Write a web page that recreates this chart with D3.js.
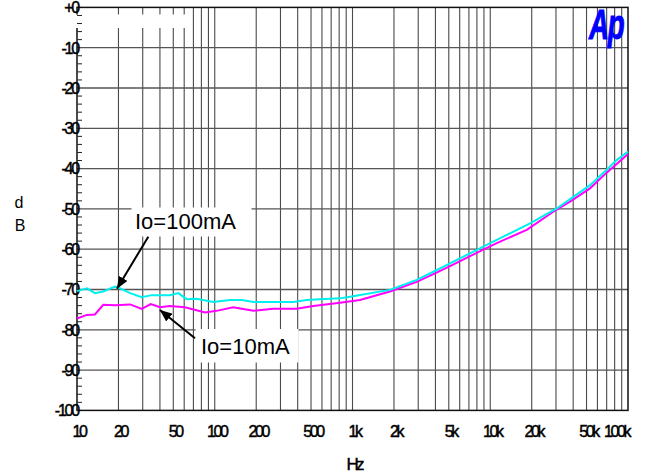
<!DOCTYPE html>
<html><head><meta charset="utf-8">
<script src="https://cdn.jsdelivr.net/npm/d3@7"></script>
<style>
html,body{margin:0;padding:0;background:#fff;}
svg{display:block;font-family:"Liberation Sans",Arial,sans-serif;}
</style></head>
<body>
<svg id="chart" width="645" height="474"></svg>
<script>
// ---- data ----
const xTickValues = [10, 20, 50, 100, 200, 500, 1000, 2000, 5000, 10000, 20000, 50000, 100000];
const xTickLabels = ["10", "20", "50", "100", "200", "500", "1k", "2k", "5k", "10k", "20k", "50k", "100k"];
const yTickValues = [0, -10, -20, -30, -40, -50, -60, -70, -80, -90, -100];
const yTickLabels = ["+0", "-10", "-20", "-30", "-40", "-50", "-60", "-70", "-80", "-90", "-100"];

const freq100 = [10, 11.8, 13.5, 15.5, 18.9, 20.5, 24.3, 29.5, 34.8, 47.3, 54.4, 62.6, 73.9, 97.7, 129, 157, 191, 372, 465, 580, 811, 959, 1871, 2923, 3864, 5104, 7540, 11140, 19460, 30370, 40100, 52980, 70000, 82700, 100000];
const db100 = [-70.4, -69.7, -70.9, -70.5, -69.3, -69.7, -70.9, -71.9, -71.4, -71.4, -70.9, -72.4, -72.3, -73.1, -72.6, -72.6, -73.1, -73.1, -72.6, -72.4, -72.2, -71.8, -70.1, -67.6, -65.6, -63.5, -60.6, -57.7, -53.6, -49.9, -47.0, -44.1, -40.3, -37.9, -35.8];

const freq10 = [10, 11.8, 13.5, 15.5, 18.9, 24.3, 29.5, 34.3, 40, 47.3, 60.8, 85, 103, 136, 191, 266, 393, 520, 811, 1133, 1871, 2923, 3864, 5104, 7130, 11140, 18400, 28700, 37900, 52980, 70000, 100000];
const db10 = [-77.2, -76.3, -76.2, -73.8, -73.9, -73.7, -74.8, -73.6, -74.4, -74.1, -74.4, -75.7, -75.3, -74.4, -75.3, -74.8, -74.8, -74.1, -73.3, -72.6, -70.5, -68.1, -66.2, -64.2, -61.7, -58.5, -55.2, -50.7, -48.2, -44.9, -41.0, -36.4];

const seriesNames = ["Io=100mA", "Io=10mA"];

// ---- layout ----
const svg = d3.select("#chart");
const L = 77, R = 628, T = 7.4, B = 410.4;
const x = d3.scaleLog().domain([10, 100000]).range([L, R]);
const y = d3.scaleLinear().domain([-100, 0]).range([B, T]);

// vertical grid lines (1..9 per decade)
const vGrid = [];
for (let d = 10; d < 100000; d *= 10) for (let k = 1; k <= 9; k++) { const f = d * k; if (f > 10 && f <= 100000) vGrid.push(f); }
svg.append("g").selectAll("line").data(vGrid).join("line")
  .attr("x1", d => x(d)).attr("x2", d => x(d)).attr("y1", T).attr("y2", B)
  .attr("stroke", "#4a4a4a").attr("stroke-width", 1.1);

// horizontal grid
svg.append("g").selectAll("line").data(yTickValues.filter(v => v !== 0 && v !== -100)).join("line")
  .attr("x1", L).attr("x2", R).attr("y1", d => y(d)).attr("y2", d => y(d))
  .attr("stroke", "#555").attr("stroke-width", 1.3);

// frame
svg.append("rect").attr("x", L).attr("y", T).attr("width", R - L).attr("height", B - T)
  .attr("fill", "none").attr("stroke", "#111").attr("stroke-width", 1.5);

// blank title box
svg.append("rect").attr("x", 76).attr("y", 14.5).attr("width", 110).attr("height", 13.5).attr("fill", "#fff");

// minor ticks on left axis
const minor = d3.range(-98, 0, 2).filter(v => v % 10 !== 0);
svg.append("g").selectAll("line").data(minor).join("line")
  .attr("x1", L).attr("x2", L + 5).attr("y1", d => y(d)).attr("y2", d => y(d))
  .attr("stroke", "#222").attr("stroke-width", 1);

// y labels
svg.append("g").selectAll("text").data(yTickValues).join("text")
  .attr("x", L + 1).attr("y", d => y(d) + 5.8)
  .attr("text-anchor", "end").attr("font-size", 16).attr("letter-spacing", "-2.2px")
  .attr("fill", "#000").attr("stroke", "#000").attr("stroke-width", 0.45)
  .text((d, i) => yTickLabels[i]);

// x labels
svg.append("g").selectAll("text").data(xTickValues).join("text")
  .attr("x", (d, i) => i === xTickValues.length - 1 ? x(d) + 1 : x(d) + 2)
  .attr("y", 436.5)
  .attr("text-anchor", (d, i) => i === xTickValues.length - 1 ? "end" : "middle")
  .attr("font-size", 16).attr("letter-spacing", "-2.4px")
  .attr("fill", "#000").attr("stroke", "#000").attr("stroke-width", 0.45)
  .text((d, i) => xTickLabels[i]);

// axis titles
svg.append("text").attr("x", 19).attr("y", 208.3).attr("text-anchor", "middle").attr("font-size", 16).text("d");
svg.append("text").attr("x", 20).attr("y", 230.7).attr("text-anchor", "middle").attr("font-size", 16).text("B");
svg.append("text").attr("x", 354).attr("y", 470).attr("text-anchor", "middle").attr("font-size", 17)
  .attr("letter-spacing", "-3px").attr("stroke", "#000").attr("stroke-width", 0.4).text("Hz");

// Ap logo
svg.append("text").attr("transform", "translate(589,38.5) scale(0.66,1)")
  .attr("font-size", 42).attr("font-weight", "bold").attr("font-style", "italic")
  .attr("fill", "#0000ff").attr("stroke", "#0000ff").attr("stroke-width", 1).attr("letter-spacing", "-2px").text("Ap");

// curves
const line = d3.line().x(d => x(d[0])).y(d => y(d[1]));
const s100 = freq100.map((f, i) => [f, db100[i]]);
const s10 = freq10.map((f, i) => [f, db10[i]]);
svg.append("path").datum(s10).attr("d", line).attr("fill", "none").attr("stroke", "#ff00ff").attr("stroke-width", 2);
svg.append("path").datum(s100).attr("d", line).attr("fill", "none").attr("stroke", "#00f0f0").attr("stroke-width", 2);

// annotation boxes
svg.append("rect").attr("x", 131.5).attr("y", 207.5).attr("width", 120).attr("height", 29).attr("fill", "#fff");
svg.append("rect").attr("x", 195.5).attr("y", 329).attr("width", 103).attr("height", 33.5).attr("fill", "#fff");

svg.append("text").attr("x", 135).attr("y", 228.5).attr("font-size", 22).attr("fill", "#000").text(seriesNames[0]);
svg.append("text").attr("x", 201).attr("y", 353.5).attr("font-size", 22).attr("fill", "#000").text(seriesNames[1]);

// arrows
svg.append("defs").append("marker").attr("id", "ah").attr("viewBox", "0 0 12 10")
  .attr("refX", 12).attr("refY", 5).attr("markerWidth", 12).attr("markerHeight", 10)
  .attr("markerUnits", "userSpaceOnUse").attr("orient", "auto")
  .append("path").attr("d", "M0,0 L12,5 L0,10 Z").attr("fill", "#000");
svg.append("line").attr("x1", 148.3).attr("y1", 236.7).attr("x2", x(19.5)).attr("y2", y(-69.8))
  .attr("stroke", "#000").attr("stroke-width", 2).attr("marker-end", "url(#ah)");
svg.append("line").attr("x1", 195).attr("y1", 338.3).attr("x2", x(40)).attr("y2", y(-75.1))
  .attr("stroke", "#000").attr("stroke-width", 2).attr("marker-end", "url(#ah)");
</script>
</body></html>
